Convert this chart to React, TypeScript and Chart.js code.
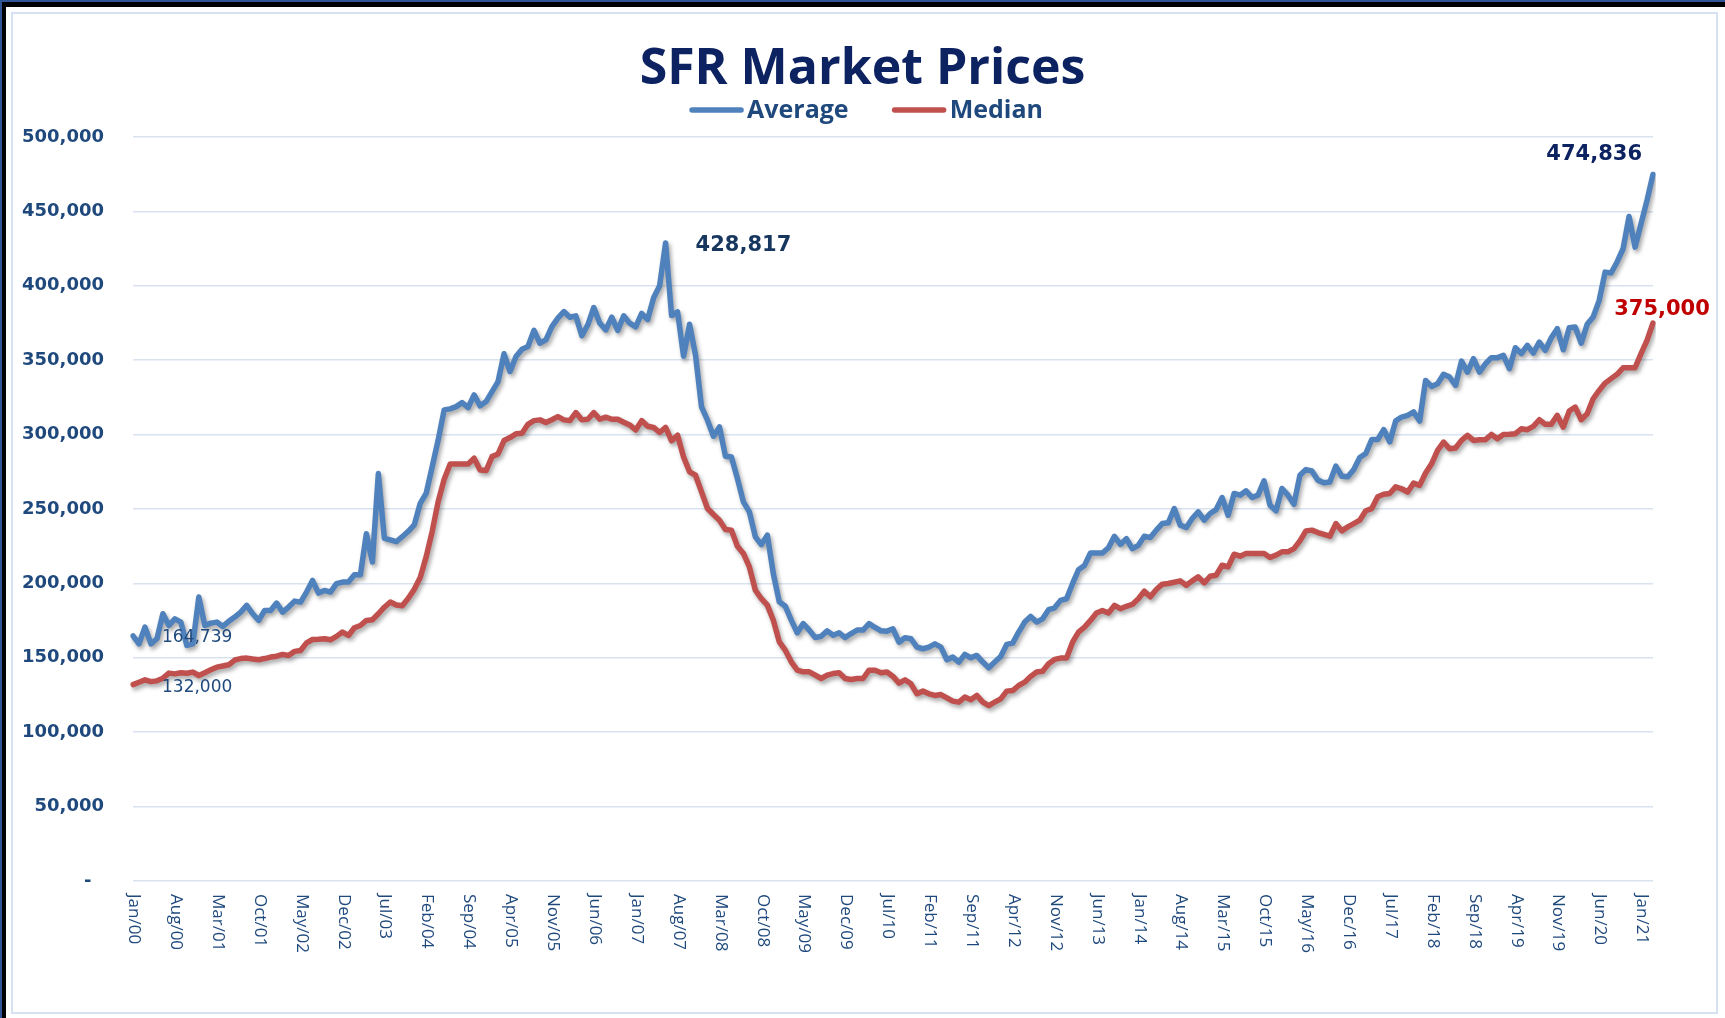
import React, { useEffect, useRef } from 'react';
import { Chart, registerables } from 'chart.js';

Chart.register(...registerables);

// ---------------- DATA ----------------
const MONTH_NAMES = ['Jan', 'Feb', 'Mar', 'Apr', 'May', 'Jun', 'Jul', 'Aug', 'Sep', 'Oct', 'Nov', 'Dec'];
const START_YEAR = 2000;
const TICK_EVERY = 7; // one axis label every 7 months: Jan/00, Aug/00, Mar/01 ...

const AVERAGE = [
  164739, 159400, 170600, 159400, 162800, 179600, 171700, 176200, 174000, 158300, 159400, 190800, // 2000
  171700, 173300, 174000, 171100, 174500, 177400, 180700, 185200, 179600, 175100, 181800, 181800, // 2001
  186800, 180700, 184100, 188100, 187400, 194200, 202000, 193500, 195300, 194200, 199800, 200900, // 2002
  200900, 205800, 205800, 233400, 214400, 273800, 230300, 229200, 228000, 231400, 235000, 239300, // 2003
  253800, 260600, 278500, 296400, 316600, 317300, 318800, 321500, 318200, 326700, 319300, 322200, // 2004
  328900, 335600, 354300, 342400, 352500, 357400, 359200, 370000, 361400, 363700, 372600, 378300, // 2005
  382700, 378900, 379800, 366400, 373800, 385400, 374900, 370400, 378900, 370000, 379800, 374900, // 2006
  372400, 381400, 377300, 392000, 400000, 428817, 380000, 382500, 352700, 374200, 353400, 318600, // 2007
  309700, 298900, 305200, 285500, 285000, 270500, 254800, 248100, 231300, 226100, 232400, 206600, // 2008
  187600, 184700, 175300, 166800, 173000, 168600, 163600, 164500, 168100, 165200, 166800, 163600, // 2009
  166300, 168600, 168600, 173000, 170400, 168100, 167900, 169500, 160500, 163500, 162800, 157200, // 2010
  156100, 157200, 159400, 157200, 148700, 150500, 147100, 152300, 150000, 151600, 147100, 143300, // 2011
  147100, 150900, 159000, 159900, 167300, 174000, 177800, 174000, 176200, 182300, 183600, 188600, // 2012
  189700, 199800, 209200, 212100, 220400, 220400, 220400, 224000, 231600, 226200, 230000, 223300, // 2013
  225600, 231700, 230800, 235800, 240200, 240700, 250300, 239100, 237600, 243600, 248100, 242500, // 2014
  247000, 249600, 257700, 245800, 260400, 259300, 262200, 257700, 259300, 268900, 252600, 248800, // 2015
  263800, 259300, 253200, 272700, 276500, 275600, 269400, 267600, 268200, 278800, 272000, 271600, // 2016
  276500, 284600, 287300, 296700, 296700, 303400, 295100, 309200, 311800, 312900, 315200, 309100, // 2017
  336400, 332400, 334200, 340500, 338700, 333100, 349400, 342000, 351000, 342000, 347600, 351700, // 2018
  351700, 353200, 344300, 358400, 354400, 360000, 354800, 362200, 356600, 365100, 371200, 357000, // 2019
  371800, 372300, 361500, 374100, 379000, 390000, 409200, 408600, 416000, 424900, 446600, 426000, // 2020
  441700, 457400, 474836, // 2021
];

const MEDIAN = [
  132000, 133600, 135200, 134000, 134500, 136300, 139700, 139200, 139900, 139600, 140400, 138100, // 2000
  140000, 141900, 143700, 144500, 145300, 148500, 149500, 149800, 149200, 148700, 149500, 150500, // 2001
  151100, 152300, 151600, 154300, 154900, 160000, 162300, 162500, 162800, 162100, 164400, 167300, // 2002
  165000, 170200, 171700, 175100, 175600, 179600, 184000, 187500, 185500, 185000, 190000, 196000, // 2003
  204000, 218000, 235000, 255000, 270000, 280300, 280300, 280300, 280300, 284100, 276200, 275800, // 2004
  285200, 287000, 296000, 298000, 300500, 300900, 306900, 309400, 309900, 308100, 310000, 312100, // 2005
  309900, 309400, 314800, 309900, 310300, 314800, 310300, 311700, 310300, 310300, 308300, 306500, // 2006
  303100, 309400, 305600, 304800, 301400, 304800, 295800, 299600, 285000, 275000, 272700, 261500, // 2007
  250300, 246300, 242500, 236200, 235800, 225000, 220100, 211100, 195400, 189800, 185400, 175300, // 2008
  160700, 155100, 147300, 141700, 140600, 140600, 138300, 136100, 138300, 139400, 139900, 136100, // 2009
  135400, 136100, 136100, 141700, 141700, 139900, 140400, 137500, 133000, 135200, 132500, 125800, // 2010
  127600, 125800, 124700, 125300, 123100, 120900, 120200, 123600, 121800, 124700, 120200, 117900, // 2011
  120200, 122400, 127600, 128000, 131400, 133600, 137500, 140400, 141000, 146000, 148900, 149800, // 2012
  149800, 160500, 167300, 170600, 175100, 180100, 181800, 180100, 185200, 183000, 184600, 185900, // 2013
  189700, 194800, 191000, 195900, 199500, 199900, 200800, 201700, 198800, 201700, 204400, 200400, // 2014
  204800, 205500, 212200, 211100, 219600, 218300, 220100, 220100, 220100, 220100, 217400, 219000, // 2015
  221200, 221200, 223400, 228600, 235300, 235800, 234200, 233000, 231700, 240200, 235300, 238000, // 2016
  240200, 242500, 248800, 250300, 258200, 259900, 260400, 264900, 263600, 261400, 267400, 265900, // 2017
  274200, 280400, 289400, 295000, 290500, 291000, 296100, 299500, 296100, 296500, 296600, 300100, // 2018
  297200, 300100, 300300, 300600, 303900, 303300, 305500, 310000, 306900, 306900, 312900, 305000, // 2019
  315800, 318500, 310000, 314000, 324100, 329700, 334600, 337600, 340500, 344900, 344900, 344900, // 2020
  354400, 363300, 375000, // 2021
];

const CATEGORIES = AVERAGE.map(
  (_, i) => `${MONTH_NAMES[i % 12]}/${String((START_YEAR + Math.floor(i / 12)) % 100).padStart(2, '0')}`
);

const SERIES_NAMES = ['Average', 'Median'];
const Y_MIN = 0;
const Y_MAX = 500000;
const Y_STEP = 50000;

// index of the 2007 peak of the average series (first ~150 months)
const PEAK_INDEX = AVERAGE.slice(0, 150).indexOf(Math.max(...AVERAGE.slice(0, 150)));
const LAST = AVERAGE.length - 1;

// ---------------- STYLE ----------------
const BLUE = '#4F81BD';
const RED = '#C0504D';
const AXIS_TEXT = '#1F497D';
const TITLE_COLOR = '#0D2260';
const GRID = '#D9E3F0';

const DATA_LABELS = [
  { series: 0, index: 0, dx: 29, dy: 2, align: 'left', font: '17px "DejaVu Sans"', color: AXIS_TEXT },
  { series: 1, index: 0, dx: 29, dy: 3, align: 'left', font: '17px "DejaVu Sans"', color: AXIS_TEXT },
  { series: 0, index: PEAK_INDEX, dx: 30, dy: 3, align: 'left', font: 'bold 21px "DejaVu Sans"', color: '#17375E' },
  { series: 0, index: LAST, dx: -11, dy: -20, align: 'right', font: 'bold 21px "DejaVu Sans"', color: TITLE_COLOR },
  { series: 1, index: LAST, dx: 9, dy: -13, align: 'center', font: 'bold 21px "DejaVu Sans"', color: '#C00000' },
];

const framePlugin = {
  id: 'frame',
  beforeDraw(chart: any) {
    const { ctx, width, height } = chart;
    ctx.save();
    ctx.fillStyle = '#ffffff';
    ctx.fillRect(0, 0, width, height);
    ctx.fillStyle = '#2F5597';
    ctx.fillRect(0, 0, width, 2);
    ctx.fillRect(0, 0, 2, height);
    ctx.fillStyle = '#000000';
    ctx.fillRect(2, 2, width - 2, 5);
    ctx.fillRect(2, 2, 4, height - 2);
    ctx.strokeStyle = '#D6E2F2';
    ctx.lineWidth = 2;
    ctx.strokeRect(12, 13, 1705, 1000);
    ctx.restore();
  },
};

const shadowPlugin = {
  id: 'lineShadow',
  beforeDatasetsDraw(chart: any) {
    const ctx = chart.ctx;
    ctx.save();
    ctx.shadowColor = 'rgba(0,0,0,0.35)';
    ctx.shadowBlur = 4;
    ctx.shadowOffsetX = 2;
    ctx.shadowOffsetY = 3;
  },
  afterDatasetsDraw(chart: any) {
    chart.ctx.restore();
  },
};

const xLabelsPlugin = {
  id: 'xLabels',
  afterDraw(chart: any) {
    const { ctx, chartArea } = chart;
    const x = chart.scales.x;
    ctx.save();
    ctx.fillStyle = AXIS_TEXT;
    ctx.font = '17px "Open Sans"';
    ctx.textAlign = 'left';
    ctx.textBaseline = 'middle';
    (chart.data.labels as string[]).forEach((lab, i) => {
      if (i % TICK_EVERY !== 0) return;
      const px = x.getPixelForValue(i);
      ctx.save();
      ctx.translate(px + 1, chartArea.bottom + 13);
      ctx.rotate(Math.PI / 2);
      ctx.fillText(lab, 0, 0);
      ctx.restore();
    });
    ctx.restore();
  },
};

const legendPlugin = {
  id: 'manualLegend',
  afterDraw(chart: any) {
    const { ctx } = chart;
    const LINE = 52;
    const TEXT_GAP = 5;
    const ITEM_GAP = 44;
    const y = 110;
    ctx.save();
    ctx.font = 'bold 25px "Open Sans"';
    const items = chart.data.datasets.map((ds: any) => ({
      label: ds.label,
      color: ds.borderColor,
      w: ctx.measureText(ds.label).width,
    }));
    const total =
      items.reduce((s: number, it: any) => s + LINE + TEXT_GAP + it.w, 0) + ITEM_GAP * (items.length - 1);
    let x = chart.width / 2 + 4 - total / 2;
    items.forEach((it: any) => {
      ctx.strokeStyle = it.color;
      ctx.lineWidth = 5.5;
      ctx.lineCap = 'round';
      ctx.beginPath();
      ctx.moveTo(x + 2, y);
      ctx.lineTo(x + LINE - 1, y);
      ctx.stroke();
      ctx.fillStyle = AXIS_TEXT;
      ctx.textAlign = 'left';
      ctx.textBaseline = 'middle';
      ctx.fillText(it.label, x + LINE + TEXT_GAP, y + 1);
      x += LINE + TEXT_GAP + it.w + ITEM_GAP;
    });
    ctx.restore();
  },
};

const dataLabelPlugin = {
  id: 'dataLabels',
  afterDraw(chart: any) {
    const { ctx } = chart;
    ctx.save();
    DATA_LABELS.forEach((l) => {
      const meta = chart.getDatasetMeta(l.series);
      const pt = meta.data[l.index];
      if (!pt) return;
      const value = chart.data.datasets[l.series].data[l.index] as number;
      ctx.font = l.font;
      ctx.fillStyle = l.color;
      ctx.textAlign = l.align;
      ctx.textBaseline = 'middle';
      ctx.fillText(value.toLocaleString('en-US'), pt.x + l.dx, pt.y + l.dy);
    });
    ctx.restore();
  },
};

export default function App() {
  const canvasRef = useRef<HTMLCanvasElement | null>(null);

  useEffect(() => {
    if (!canvasRef.current) return;
    const lineStyle = {
      borderWidth: 5.5,
      pointRadius: 0,
      tension: 0,
      borderJoinStyle: 'round',
      borderCapStyle: 'round',
      fill: false,
    };
    const chart = new Chart(canvasRef.current, {
      type: 'line',
      data: {
        labels: CATEGORIES,
        datasets: [
          { label: SERIES_NAMES[0], data: AVERAGE, borderColor: BLUE, backgroundColor: BLUE, ...lineStyle },
          { label: SERIES_NAMES[1], data: MEDIAN, borderColor: RED, backgroundColor: RED, ...lineStyle },
        ],
      },
      options: {
        responsive: false,
        animation: false,
        devicePixelRatio: 1,
        layout: { padding: { left: 0, right: 0, top: 0, bottom: 137 } },
        plugins: {
          legend: { display: false },
          tooltip: { enabled: false },
          title: {
            display: true,
            text: 'SFR Market Prices',
            color: TITLE_COLOR,
            font: { family: 'Open Sans', size: 50, weight: 'bold', lineHeight: 1.2 },
            padding: { top: 40, bottom: 37 },
          },
        },
        scales: {
          x: {
            type: 'category',
            display: false,
            offset: false,
          },
          y: {
            min: Y_MIN,
            max: Y_MAX,
            afterFit: (scale: any) => {
              scale.width = 133;
            },
            border: { display: false },
            grid: { color: GRID, lineWidth: 1.5, drawTicks: false },
            ticks: {
              stepSize: Y_STEP,
              padding: 29,
              color: AXIS_TEXT,
              font: { family: 'DejaVu Sans', size: 18, weight: 'bold' },
              callback: (v: any) => (Number(v) === 0 ? '-  ' : Number(v).toLocaleString('en-US')),
            },
          },
          // empty right-hand spacer axis: keeps the plot's right edge in place while the title stays centred on the page
          yRight: {
            position: 'right',
            display: true,
            min: Y_MIN,
            max: Y_MAX,
            afterFit: (scale: any) => {
              scale.width = 72;
            },
            border: { display: false },
            grid: { display: false, drawTicks: false },
            ticks: { display: false },
          },
        },
      },
      plugins: [framePlugin, shadowPlugin, xLabelsPlugin, legendPlugin, dataLabelPlugin],
    } as any);
    return () => chart.destroy();
  }, []);

  return (
    <div style={{ position: 'fixed', left: 0, top: 0, width: 1725, height: 1018, background: '#fff' }}>
      <canvas ref={canvasRef} width={1725} height={1018} style={{ display: 'block' }} />
    </div>
  );
}
